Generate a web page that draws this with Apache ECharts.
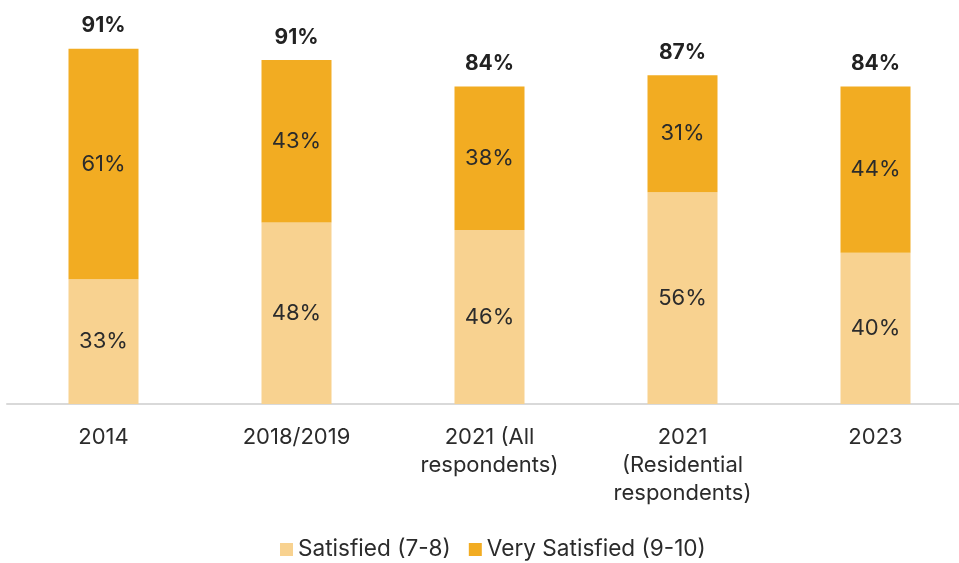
<!DOCTYPE html>
<html><head><meta charset="utf-8">
<script src="https://cdn.jsdelivr.net/npm/echarts@6/dist/echarts.min.js"></script>
<style>html,body{margin:0;padding:0;background:#fff}#c{width:959px;height:563px}</style>
</head><body><div id="c"></div>
<script>
var categories = ['2014', '2018/2019', '2021 (All\nrespondents)', '2021\n(Residential\nrespondents)', '2023'];
var satisfied = [33, 48, 46, 56, 40];
var verySatisfied = [61, 43, 38, 31, 44];
var totalLabels = ['91%', '91%', '84%', '87%', '84%'];
var FONT = 'Inter, "Noto Sans", sans-serif';
var chart = echarts.init(document.getElementById('c'));
chart.setOption({
  animation: false,
  grid: { left: 7, width: 965, top: 26, height: 378, outerBoundsMode: 'none', containLabel: false },
  legend: {
    data: ['Satisfied (7-8)', 'Very Satisfied (9-10)'],
    top: 533, left: 275, itemWidth: 13, itemHeight: 13, itemGap: 18,
    icon: 'rect',
    textStyle: { fontFamily: FONT, fontSize: 22.6, color: '#2b2b2b' }
  },
  xAxis: {
    type: 'category', data: categories,
    axisLine: { lineStyle: { color: '#d9d9d9', width: 2 } },
    axisTick: { show: false },
    axisLabel: { fontFamily: FONT, fontSize: 22, color: '#2b2b2b', lineHeight: 28, margin: 19, interval: 0 }
  },
  yAxis: { type: 'value', min: 0, max: 100, show: false, splitLine: { show: false } },
  series: [
    { name: 'Satisfied (7-8)', type: 'bar', stack: 's', barWidth: 70, data: satisfied,
      itemStyle: { color: '#F8D290' },
      label: { show: true, position: 'inside', formatter: '{c}%', fontFamily: FONT, fontSize: 22, color: '#2b2b2b' } },
    { name: 'Very Satisfied (9-10)', type: 'bar', stack: 's', barWidth: 70, data: verySatisfied,
      itemStyle: { color: '#F2AC22' },
      label: { show: true, position: 'inside', formatter: '{c}%', fontFamily: FONT, fontSize: 22, color: '#2b2b2b' } },
    { name: 'total', type: 'bar', stack: 's', barWidth: 70, data: totalLabels.map(function(){return 0;}),
      itemStyle: { color: 'transparent' },
      label: { show: true, position: 'top', distance: 12, formatter: function(p){ return totalLabels[p.dataIndex]; },
        fontFamily: FONT, fontSize: 21, fontWeight: 'bold', color: '#222' } }
  ]
});
</script></body></html>
